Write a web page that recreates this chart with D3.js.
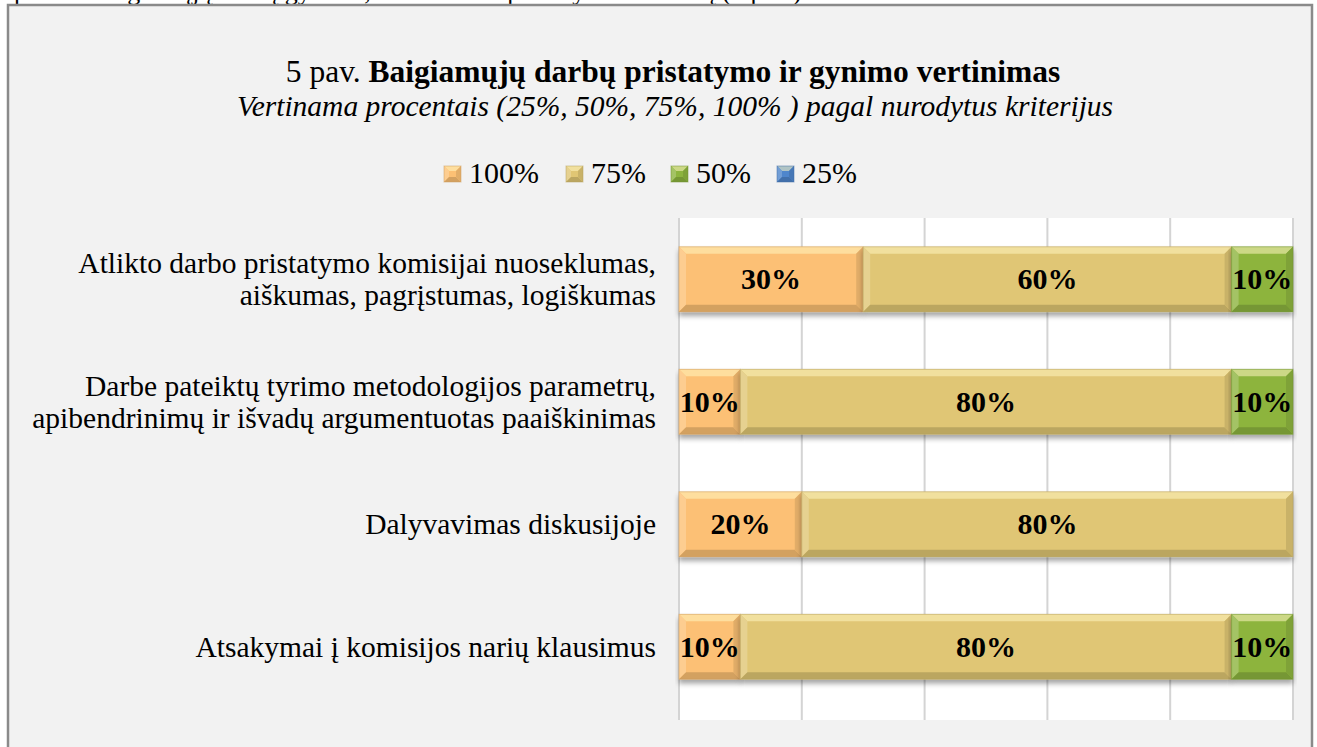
<!DOCTYPE html>
<html>
<head>
<meta charset="utf-8">
<script src="https://cdn.jsdelivr.net/npm/d3@7"></script>
<style>
  body { margin: 0; background: #ffffff; }
  svg text { font-family: "Liberation Serif", "Times New Roman", Times, serif; }
</style>
</head>
<body>
<div id="vis"></div>
<script>
const width = 1317
const height = 747

// data
const categories = [
    "Atlikto darbo pristatymo komisijai nuoseklumas,|aiškumas, pagrįstumas, logiškumas",
    "Darbe pateiktų tyrimo metodologijos parametrų,|apibendrinimų ir išvadų argumentuotas paaiškinimas",
    "Dalyvavimas diskusijoje",
    "Atsakymai į komisijos narių klausimus"
]
const series = ["100%", "75%", "50%", "25%"]
const values100 = [30, 10, 20, 10]
const values75 = [60, 80, 80, 80]
const values50 = [10, 10, 0, 10]
const values25 = [0, 0, 0, 0]
const xTicks = [0, 20, 40, 60, 80, 100]
const colours = ["#fcc074", "#e0c674", "#8db43e", "#4f86cc"]

const svg = d3.select("#vis")
    .append("svg")
    .attr("width", width)
    .attr("height", height)
    .attr("font-family", "'Liberation Serif', 'Times New Roman', serif")

const defs = svg.append("defs")
const shadow = defs.append("filter")
    .attr("id", "shadow")
    .attr("x", "-5%").attr("y", "-20%")
    .attr("width", "110%").attr("height", "160%")
shadow.append("feDropShadow")
    .attr("dx", 0).attr("dy", 4)
    .attr("stdDeviation", 2.5)
    .attr("flood-color", "#000")
    .attr("flood-opacity", 0.35)

// cut-off line of the document text above the chart
svg.append("text")
    .attr("x", 14)
    .attr("y", 0)
    .attr("font-size", 26)
    .text("pateikė baigiamųjų darbų gynimo, vertinimo ir pristatymo rezultatų (5 pav.)")

// chart frame
svg.append("rect")
    .attr("x", 8)
    .attr("y", 5)
    .attr("width", 1304)
    .attr("height", 760)
    .attr("fill", "#f2f2f2")
    .attr("stroke", "#8a8a8a")
    .attr("stroke-width", 2.5)

// titles
const title = svg.append("text")
    .attr("x", 673)
    .attr("y", 82)
    .attr("text-anchor", "middle")
    .attr("font-size", 31.5)
title.append("tspan").text("5 pav. ")
title.append("tspan").attr("font-weight", "bold").text("Baigiamųjų darbų pristatymo ir gynimo vertinimas")

svg.append("text")
    .attr("x", 675)
    .attr("y", 116)
    .attr("text-anchor", "middle")
    .attr("font-size", 29.5)
    .attr("font-style", "italic")
    .text("Vertinama procentais (25%, 50%, 75%, 100% ) pagal nurodytus kriterijus")

// scales
const xScale = d3.scaleLinear([0, 100], [679, 1293])
const yScale = d3.scaleBand(categories, [218, 708]).paddingInner(0.47).paddingOuter(0.235)
const colourScale = d3.scaleOrdinal(series, colours)

// plot area
svg.append("rect")
    .attr("x", xScale(0))
    .attr("y", 218)
    .attr("width", xScale(100) - xScale(0))
    .attr("height", 502)
    .attr("fill", "#ffffff")

svg.selectAll("line.grid")
    .data(xTicks)
    .join("line")
        .attr("class", "grid")
        .attr("x1", d => xScale(d))
        .attr("x2", d => xScale(d))
        .attr("y1", 218)
        .attr("y2", 720)
        .attr("stroke", "#d4d4d4")
        .attr("stroke-width", 2)

// bevelled box like the Excel 3D style
function bevel(g, x, y, w, h, c, b) {
    b = Math.min(b, w / 2, h / 2)
    const col = d3.color(c)
    g.append("rect")
        .attr("x", x).attr("y", y)
        .attr("width", w).attr("height", h)
        .attr("fill", c)
    const faces = [
        { pts: [[x, y], [x + w, y], [x + w - b, y + b], [x + b, y + b]], fill: d3.interpolateRgb(c, "#fff6c0")(0.55) },
        { pts: [[x, y], [x + b, y + b], [x + b, y + h - b], [x, y + h]], fill: d3.interpolateRgb(c, "#fff")(0.2) },
        { pts: [[x, y + h], [x + b, y + h - b], [x + w - b, y + h - b], [x + w, y + h]], fill: col.darker(0.5) },
        { pts: [[x + w, y], [x + w, y + h], [x + w - b, y + h - b], [x + w - b, y + b]], fill: col.darker(0.3) }
    ]
    g.selectAll(null)
        .data(faces)
        .join("polygon")
            .attr("points", d => d.pts.map(p => p.join(",")).join(" "))
            .attr("fill", d => d.fill)
    g.append("rect")
        .attr("x", x).attr("y", y)
        .attr("width", w).attr("height", h)
        .attr("fill", "none")
        .attr("stroke", col.darker(0.6))
        .attr("stroke-opacity", 0.5)
        .attr("stroke-width", 1)
}

// stack
const rows = categories.map((c, i) => ({
    cat: c,
    "100%": values100[i],
    "75%": values75[i],
    "50%": values50[i],
    "25%": values25[i]
}))
const stacked = d3.stack().keys(series)(rows)

const barsG = svg.append("g")
stacked.forEach(layer => {
    layer.forEach(seg => {
        const v = seg[1] - seg[0]
        if (v <= 0) return
        const g = barsG.append("g").attr("filter", "url(#shadow)")
        const x0 = xScale(seg[0])
        const x1 = xScale(seg[1])
        bevel(g, x0, yScale(seg.data.cat), x1 - x0, yScale.bandwidth(), colourScale(layer.key), 7)
    })
})

// value labels
stacked.forEach(layer => {
    svg.selectAll(null)
        .data(layer.filter(seg => seg[1] - seg[0] > 0))
        .join("text")
            .attr("x", seg => (xScale(seg[0]) + xScale(seg[1])) / 2)
            .attr("y", seg => yScale(seg.data.cat) + yScale.bandwidth() / 2 + 10)
            .attr("text-anchor", "middle")
            .attr("font-size", 30)
            .attr("font-weight", "bold")
            .text(seg => (seg[1] - seg[0]) + "%")
})

// category labels
svg.selectAll("text.cat")
    .data(categories)
    .join("text")
        .attr("class", "cat")
        .attr("text-anchor", "end")
        .attr("font-size", 29.5)
        .each(function (d) {
            const lines = d.split("|")
            const cy = yScale(d) + yScale.bandwidth() / 2
            const first = cy + 10 - (lines.length - 1) * 16
            d3.select(this).selectAll("tspan")
                .data(lines)
                .join("tspan")
                    .attr("x", 656)
                    .attr("y", (l, i) => first + i * 32)
                    .text(l => l)
        })

// legend
const legendX = [444, 566, 671, 777]
const legend = svg.selectAll("g.legend")
    .data(series)
    .join("g")
        .attr("class", "legend")
legend.each(function (d, i) {
    bevel(d3.select(this), legendX[i], 166, 17, 16, colourScale(d), 5)
})
legend.append("text")
    .attr("x", (d, i) => legendX[i] + 25)
    .attr("y", 183)
    .attr("font-size", 30)
    .text(d => d)
</script>
</body>
</html>
